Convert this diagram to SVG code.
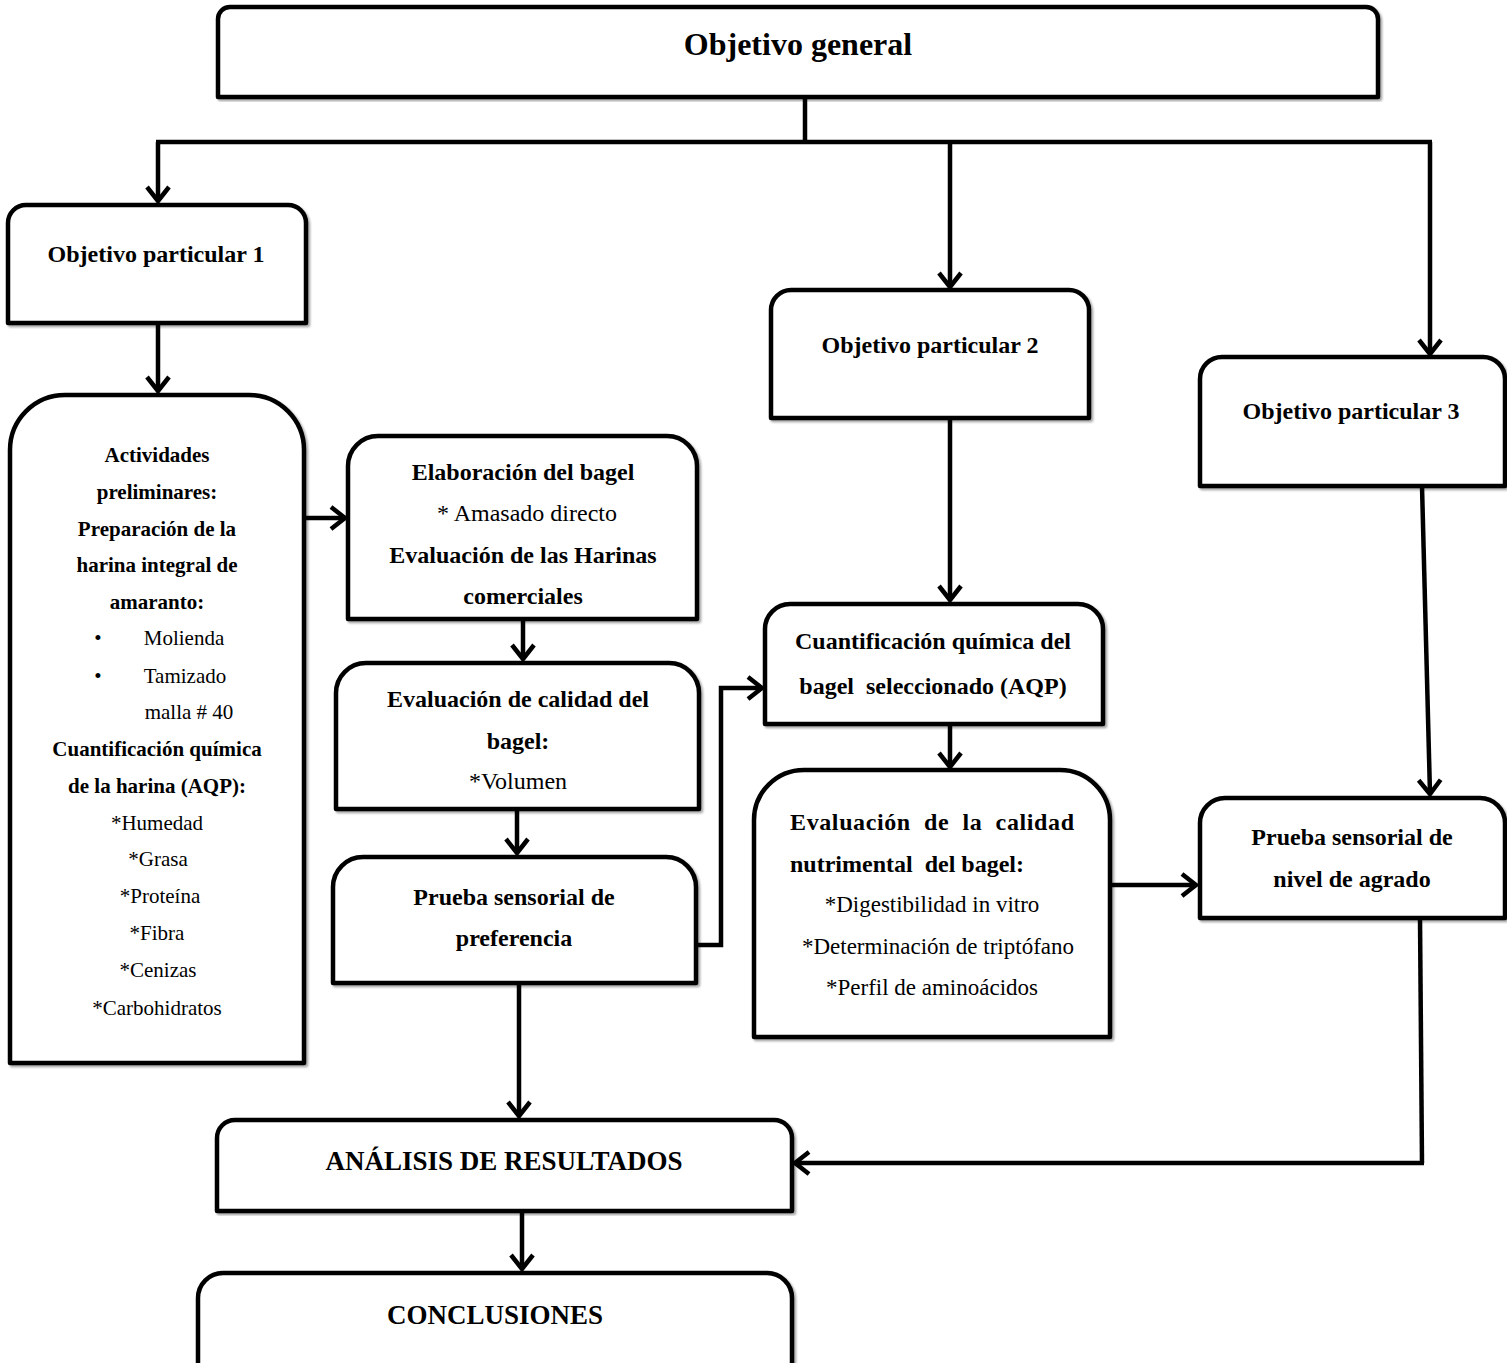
<svg xmlns="http://www.w3.org/2000/svg" width="1507" height="1363" viewBox="0 0 1507 1363">
<style>
.box{fill:#fff;stroke:#000;stroke-width:4.5;stroke-linejoin:round;filter:url(#sh)}
.b{font-family:"Liberation Serif","Times New Roman",serif;font-weight:bold;font-size:24px;text-anchor:middle;fill:#000}
.n{font-family:"Liberation Serif","Times New Roman",serif;font-size:24px;text-anchor:middle;fill:#000}
.s{font-size:21px}
.c{fill:none;stroke:#000;stroke-width:4.5;stroke-linejoin:miter}
.a{marker-end:url(#ah)}
</style>
<defs>
<filter id="sh" x="-5%" y="-5%" width="110%" height="110%">
<feDropShadow dx="2" dy="2" stdDeviation="1.2" flood-color="#000" flood-opacity="0.35"/>
</filter>
<marker id="ah" viewBox="0 0 18 26" refX="16" refY="13" markerWidth="18" markerHeight="26" orient="auto" markerUnits="userSpaceOnUse" overflow="visible">
<path d="M2,2 L16,13 L2,24" fill="none" stroke="#000" stroke-width="4.5" stroke-linejoin="miter"/>
</marker>
</defs>

<g id="connectors">
<path class="c" d="M805,97 V142"/>
<path class="c" d="M156,142 H1432"/>
<path class="c a" d="M158,142 V201"/>
<path class="c a" d="M950,142 V287"/>
<path class="c a" d="M1430,142 V354"/>
<path class="c a" d="M158,323 V391"/>
<path class="c a" d="M304,518 H345"/>
<path class="c a" d="M523,619 V659"/>
<path class="c a" d="M517,809 V853"/>
<path class="c a" d="M693,945 H721 V688 H762"/>
<path class="c a" d="M519,983 V1116"/>
<path class="c a" d="M950,418 V600"/>
<path class="c a" d="M950,724 V767"/>
<path class="c a" d="M1110,885 H1196"/>
<path class="c a" d="M1422,486 L1430,794"/>
<path class="c" d="M1420,918 L1422,1163"/>
<path class="c a" d="M1424,1163 H795"/>
<path class="c a" d="M522,1211 V1269"/>
</g>

<g id="objetivo-general">
<path class="box" d="M218,97 V19 A12,12 0 0 1 230,7 H1366 A12,12 0 0 1 1378,19 V97 Z"/>
<text class="b" x="798" y="55" style="font-size:32px">Objetivo general</text>
</g>

<g id="objetivo-particular-1">
<path class="box" d="M8,323 V223 A18,18 0 0 1 26,205 H288 A18,18 0 0 1 306,223 V323 Z"/>
<text class="b" x="156" y="262">Objetivo particular 1</text>
</g>

<g id="actividades">
<path class="box" d="M10,1063 V450 A55,55 0 0 1 65,395 H249 A55,55 0 0 1 304,450 V1063 Z"/>
<text class="b s" x="157" y="462">Actividades</text>
<text class="b s" x="157" y="499">preliminares:</text>
<text class="b s" x="157" y="536">Preparación de la</text>
<text class="b s" x="157" y="572">harina integral de</text>
<text class="b s" x="157" y="609">amaranto:</text>
<text class="n s" x="98" y="645">•</text>
<text class="n s" x="184" y="645">Molienda</text>
<text class="n s" x="98" y="683">•</text>
<text class="n s" x="185" y="683">Tamizado</text>
<text class="n s" x="189" y="719">malla # 40</text>
<text class="b s" x="157" y="756">Cuantificación química</text>
<text class="b s" x="157" y="793">de la harina (AQP):</text>
<text class="n s" x="157" y="830">*Humedad</text>
<text class="n s" x="158" y="866">*Grasa</text>
<text class="n s" x="160" y="903">*Proteína</text>
<text class="n s" x="157" y="940">*Fibra</text>
<text class="n s" x="158" y="977">*Cenizas</text>
<text class="n s" x="157" y="1015">*Carbohidratos</text>
</g>

<g id="elaboracion">
<path class="box" d="M348,619 V466 A30,30 0 0 1 378,436 H667 A30,30 0 0 1 697,466 V619 Z"/>
<text class="b" x="523" y="480">Elaboración del bagel</text>
<text class="n" x="527" y="521">* Amasado directo</text>
<text class="b" x="523" y="563">Evaluación de las Harinas</text>
<text class="b" x="523" y="604">comerciales</text>
</g>

<g id="evaluacion-calidad">
<path class="box" d="M336,809 V693 A30,30 0 0 1 366,663 H669 A30,30 0 0 1 699,693 V809 Z"/>
<text class="b" x="518" y="707">Evaluación de calidad del</text>
<text class="b" x="518" y="749">bagel:</text>
<text class="n" x="518" y="789">*Volumen</text>
</g>

<g id="prueba-preferencia">
<path class="box" d="M333,983 V887 A30,30 0 0 1 363,857 H666 A30,30 0 0 1 696,887 V983 Z"/>
<text class="b" x="514" y="905">Prueba sensorial de</text>
<text class="b" x="514" y="946">preferencia</text>
</g>

<g id="objetivo-particular-2">
<path class="box" d="M771,418 V310 A20,20 0 0 1 791,290 H1069 A20,20 0 0 1 1089,310 V418 Z"/>
<text class="b" x="930" y="353">Objetivo particular 2</text>
</g>

<g id="cuantificacion-bagel">
<path class="box" d="M765,724 V629 A25,25 0 0 1 790,604 H1078 A25,25 0 0 1 1103,629 V724 Z"/>
<text class="b" x="933" y="649">Cuantificación química del</text>
<text class="b" x="933" y="694" xml:space="preserve">bagel  seleccionado (AQP)</text>
</g>

<g id="evaluacion-nutrimental">
<path class="box" d="M754,1037 V820 A50,50 0 0 1 804,770 H1060 A50,50 0 0 1 1110,820 V1037 Z"/>
<text class="b" x="790" y="830" style="text-anchor:start" textLength="284" lengthAdjust="spacing" xml:space="preserve">Evaluación  de  la  calidad</text>
<text class="b" x="790" y="872" style="text-anchor:start" xml:space="preserve">nutrimental  del bagel:</text>
<text class="n" x="932" y="912" style="font-size:23px">*Digestibilidad in vitro</text>
<text class="n" x="938" y="954" style="font-size:23px">*Determinación de triptófano</text>
<text class="n" x="932" y="995" style="font-size:23px">*Perfil de aminoácidos</text>
</g>

<g id="objetivo-particular-3">
<path class="box" d="M1200,486 V379 A22,22 0 0 1 1222,357 H1483 A22,22 0 0 1 1505,379 V486 Z"/>
<text class="b" x="1351" y="419">Objetivo particular 3</text>
</g>

<g id="prueba-agrado">
<path class="box" d="M1200,918 V823 A25,25 0 0 1 1225,798 H1480 A25,25 0 0 1 1505,823 V918 Z"/>
<text class="b" x="1352" y="845">Prueba sensorial de</text>
<text class="b" x="1352" y="887">nivel de agrado</text>
</g>

<g id="analisis">
<path class="box" d="M217,1211 V1138 A18,18 0 0 1 235,1120 H774 A18,18 0 0 1 792,1138 V1211 Z"/>
<text class="b" x="504" y="1170" style="font-size:27px">ANÁLISIS DE RESULTADOS</text>
</g>

<g id="conclusiones">
<path class="box" d="M198,1368 V1298 A25,25 0 0 1 223,1273 H767 A25,25 0 0 1 792,1298 V1368 Z"/>
<text class="b" x="495" y="1324" style="font-size:27px">CONCLUSIONES</text>
</g>
</svg>
